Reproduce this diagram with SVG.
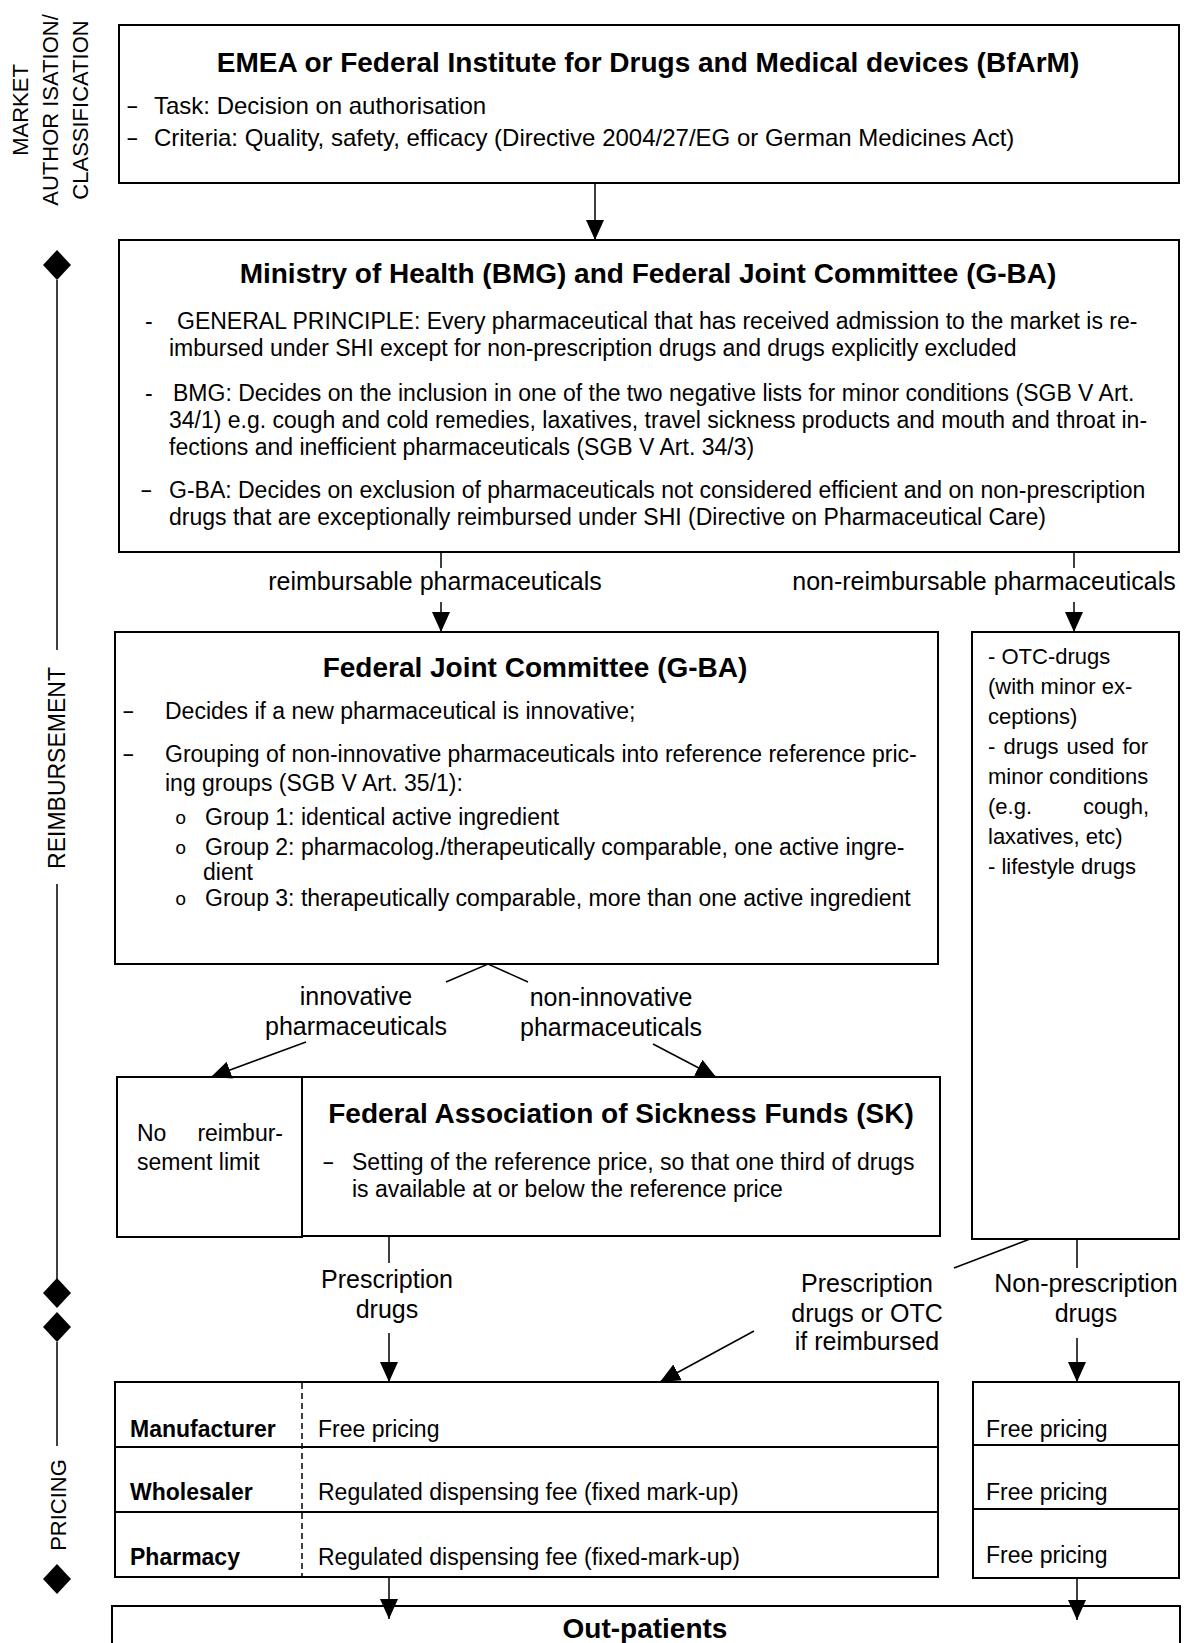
<svg xmlns="http://www.w3.org/2000/svg" width="1190" height="1643" viewBox="0 0 1190 1643">
<style>
text{font-family:"Liberation Sans",Arial,sans-serif;font-size:23px;fill:#000}
.box{fill:#fff;stroke:#000;stroke-width:2}
.h{font-size:28px;font-weight:bold;text-anchor:middle}
.b{font-weight:bold}
.dash{font-size:19px;font-weight:bold}
.o{font-family:"Liberation Mono","Courier New",monospace;font-size:19px}
.lbl{font-size:25px;text-anchor:middle}
.side{font-size:22px;text-anchor:middle}
.e{font-size:24px}
.otc{font-size:22px}
.end{text-anchor:end}
.conn{stroke:#000;stroke-width:1.5;fill:none}
.arr{marker-end:url(#ah)}
.sep{stroke:#000;stroke-width:2}
.dashed{stroke:#000;stroke-width:1.5;stroke-dasharray:6 4}
</style>
<defs>
<marker id="ah" viewBox="0 0 20 20" refX="20" refY="10" markerWidth="20" markerHeight="20" markerUnits="userSpaceOnUse" orient="auto"><path d="M0,1 L20,10 L0,19 z" fill="#000"/></marker>
</defs>
<rect width="1190" height="1643" fill="#fff"/>

<g id="axis">
<text class="side" transform="translate(28,110) rotate(-90)">MARKET</text>
<text class="side" transform="translate(58,110) rotate(-90)">AUTHOR ISATION/</text>
<text class="side" transform="translate(88,110) rotate(-90)">CLASSIFICATION</text>
<path d="M57,250 L71,265 L57,280 L43,265 Z" fill="#000"/>
<line class="conn" x1="57" y1="280" x2="57" y2="650"/>
<text class="side" style="font-size:23px" transform="translate(65,768) rotate(-90)">REIMBURSEMENT</text>
<line class="conn" x1="57" y1="884" x2="57" y2="1280"/>
<path d="M57,1278 L71,1293 L57,1308 L43,1293 Z" fill="#000"/>
<path d="M57,1312 L71,1327 L57,1342 L43,1327 Z" fill="#000"/>
<line class="conn" x1="57" y1="1342" x2="57" y2="1446"/>
<text class="side" transform="translate(66,1505) rotate(-90)">PRICING</text>
<path d="M57,1564 L71,1579 L57,1594 L43,1579 Z" fill="#000"/>
</g>

<g id="emea">
<rect class="box" x="119" y="25" width="1060" height="158"/>
<text class="h" x="648" y="72">EMEA or Federal Institute for Drugs and Medical devices (BfArM)</text>
<text class="dash" x="127" y="112">–</text>
<text class="e" x="154" y="114">Task: Decision on authorisation</text>
<text class="dash" x="127" y="144">–</text>
<text class="e" x="154" y="146">Criteria: Quality, safety, efficacy (Directive 2004/27/EG or German Medicines Act)</text>
</g>

<g id="ministry">
<rect class="box" x="119" y="240" width="1060" height="312"/>
<text class="h" x="648" y="283">Ministry of Health (BMG) and Federal Joint Committee (G-BA)</text>
<text x="145" y="329">-</text>
<text x="177" y="329">GENERAL PRINCIPLE: Every pharmaceutical that has received admission to the market is re-</text>
<text x="169" y="356">imbursed under SHI except for non-prescription drugs and drugs explicitly excluded</text>
<text x="145" y="401">-</text>
<text x="173" y="401">BMG: Decides on the inclusion in one of the two negative lists for minor conditions (SGB V Art.</text>
<text x="169" y="428">34/1) e.g. cough and cold remedies, laxatives, travel sickness products and mouth and throat in-</text>
<text x="169" y="455">fections and inefficient pharmaceuticals (SGB V Art. 34/3)</text>
<text class="dash" x="141" y="496">–</text>
<text x="169" y="498">G-BA: Decides on exclusion of pharmaceuticals not considered efficient and on non-prescription</text>
<text x="169" y="525">drugs that are exceptionally reimbursed under SHI (Directive on Pharmaceutical Care)</text>
</g>

<g id="gba">
<rect class="box" x="115" y="632" width="823" height="332"/>
<text class="h" x="535" y="677">Federal Joint Committee (G-BA)</text>
<text class="dash" x="123" y="717">–</text>
<text x="165" y="719">Decides if a new pharmaceutical is innovative;</text>
<text class="dash" x="123" y="760">–</text>
<text x="165" y="762">Grouping of non-innovative pharmaceuticals into reference reference pric-</text>
<text x="165" y="791">ing groups (SGB V Art. 35/1):</text>
<text class="o" x="175" y="824">o</text>
<text x="205" y="825">Group 1: identical active ingredient</text>
<text class="o" x="175" y="854">o</text>
<text x="205" y="855">Group 2: pharmacolog./therapeutically comparable, one active ingre-</text>
<text x="203" y="880">dient</text>
<text class="o" x="175" y="905">o</text>
<text x="205" y="906">Group 3: therapeutically comparable, more than one active ingredient</text>
</g>

<g id="nonreimb">
<rect class="box" x="972" y="632" width="207" height="607"/>
<text class="otc" x="988" y="664">-  OTC-drugs</text>
<text class="otc" x="988" y="694">(with minor ex-</text>
<text class="otc" x="988" y="724">ceptions)</text>
<text class="otc" x="988" y="754" style="word-spacing:2px">- drugs used for</text>
<text class="otc" x="988" y="784">minor conditions</text>
<text class="otc" x="988" y="814">(e.g.</text>
<text class="otc end" x="1149" y="814">cough,</text>
<text class="otc" x="988" y="844">laxatives, etc)</text>
<text class="otc" x="988" y="874">- lifestyle drugs</text>
</g>

<g id="nolimit">
<rect class="box" x="117" y="1077" width="185" height="160"/>
<text x="137" y="1141">No</text>
<text class="end" x="283" y="1141">reimbur-</text>
<text x="137" y="1170">sement limit</text>
</g>

<g id="sk">
<rect class="box" x="302" y="1077" width="638" height="159"/>
<text class="h" x="621" y="1123">Federal Association of Sickness Funds (SK)</text>
<text class="dash" x="323" y="1168">–</text>
<text x="352" y="1170">Setting of the reference price, so that one third of drugs</text>
<text x="352" y="1197">is available at or below the reference price</text>
</g>

<g id="pricing">
<rect class="box" x="115" y="1382" width="823" height="195"/>
<line class="sep" x1="115" y1="1447" x2="938" y2="1447"/>
<line class="sep" x1="115" y1="1512" x2="938" y2="1512"/>
<line class="dashed" x1="302" y1="1383" x2="302" y2="1576"/>
<text class="b" x="130" y="1437">Manufacturer</text>
<text x="318" y="1437">Free pricing</text>
<text class="b" x="130" y="1500">Wholesaler</text>
<text x="318" y="1500">Regulated dispensing fee (fixed mark-up)</text>
<text class="b" x="130" y="1565">Pharmacy</text>
<text x="318" y="1565">Regulated dispensing fee (fixed-mark-up)</text>
</g>

<g id="pricing-otc">
<rect class="box" x="973" y="1382" width="206" height="196"/>
<line class="sep" x1="973" y1="1445" x2="1179" y2="1445"/>
<line class="sep" x1="973" y1="1509" x2="1179" y2="1509"/>
<text x="986" y="1437">Free pricing</text>
<text x="986" y="1500">Free pricing</text>
<text x="986" y="1563">Free pricing</text>
</g>

<g id="outpatients">
<rect class="box" x="112" y="1606" width="1068" height="70"/>
<text class="h" x="645" y="1638">Out-patients</text>
</g>

<g id="connectors">
<line class="conn arr" x1="595" y1="183" x2="595" y2="240"/>
<line class="conn" x1="441" y1="552" x2="441" y2="568"/>
<text class="lbl" x="435" y="590">reimbursable pharmaceuticals</text>
<line class="conn arr" x1="441" y1="602" x2="441" y2="632"/>
<line class="conn" x1="1074" y1="552" x2="1074" y2="568"/>
<text class="lbl" x="984" y="590">non-reimbursable pharmaceuticals</text>
<line class="conn arr" x1="1074" y1="602" x2="1074" y2="632"/>
<polyline class="conn" points="446,982 488,964 528,982"/>
<text class="lbl" x="356" y="1005">innovative</text>
<text class="lbl" x="356" y="1035">pharmaceuticals</text>
<text class="lbl" x="611" y="1006">non-innovative</text>
<text class="lbl" x="611" y="1036">pharmaceuticals</text>
<line class="conn arr" x1="306" y1="1042" x2="211" y2="1077"/>
<line class="conn arr" x1="653" y1="1044" x2="716" y2="1077"/>
<line class="conn" x1="389" y1="1237" x2="389" y2="1263"/>
<text class="lbl" x="387" y="1288">Prescription</text>
<text class="lbl" x="387" y="1318">drugs</text>
<line class="conn arr" x1="389" y1="1333" x2="389" y2="1382"/>
<line class="conn" x1="1030" y1="1239" x2="954" y2="1268"/>
<text class="lbl" x="867" y="1292">Prescription</text>
<text class="lbl" x="867" y="1322">drugs or OTC</text>
<text class="lbl" x="867" y="1350">if reimbursed</text>
<line class="conn arr" x1="754" y1="1331" x2="660" y2="1382"/>
<line class="conn" x1="1077" y1="1239" x2="1077" y2="1268"/>
<text class="lbl" x="1086" y="1292">Non-prescription</text>
<text class="lbl" x="1086" y="1322">drugs</text>
<line class="conn arr" x1="1077" y1="1338" x2="1077" y2="1382"/>
<line class="conn arr" x1="389" y1="1577" x2="389" y2="1619"/>
<line class="conn arr" x1="1077" y1="1578" x2="1077" y2="1620"/>
</g>
</svg>
